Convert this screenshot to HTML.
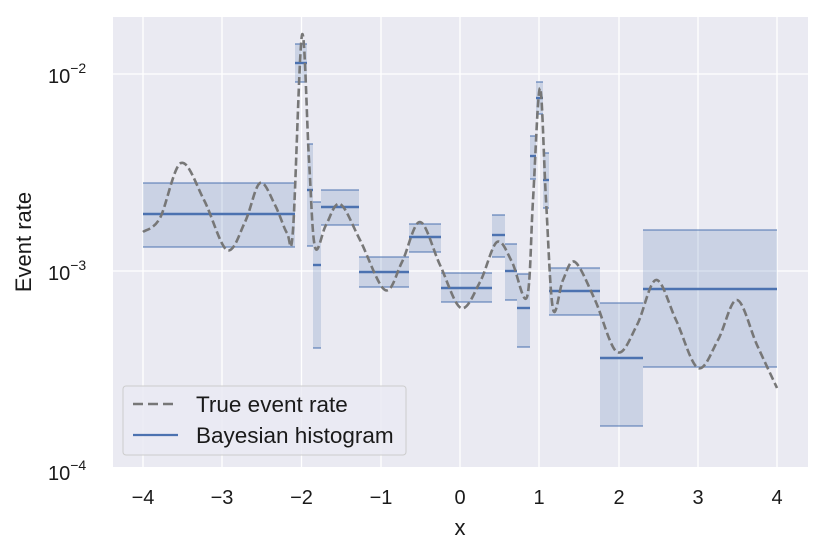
<!DOCTYPE html>
<html><head><style>
body{margin:0;background:#fff;font-family:"Liberation Sans","DejaVu Sans",sans-serif;}
svg text{font-family:"Liberation Sans","DejaVu Sans",sans-serif;fill:#1a1a1a;}
</style></head><body>
<svg id="s" width="823" height="554" xmlns="http://www.w3.org/2000/svg">
<rect x="113" y="17" width="695" height="450" fill="#eaeaf2"/>
<g stroke="#fff" stroke-width="1.3">
<line x1="143" y1="17" x2="143" y2="467"/><line x1="222" y1="17" x2="222" y2="467"/>
<line x1="301.5" y1="17" x2="301.5" y2="467"/><line x1="381" y1="17" x2="381" y2="467"/>
<line x1="460" y1="17" x2="460" y2="467"/><line x1="539" y1="17" x2="539" y2="467"/>
<line x1="619" y1="17" x2="619" y2="467"/><line x1="698" y1="17" x2="698" y2="467"/>
<line x1="777" y1="17" x2="777" y2="467"/>
<line x1="113" y1="74" x2="808" y2="74"/><line x1="113" y1="271" x2="808" y2="271"/>
</g>
<g id="bins"></g>
<path id="curve" fill="none" stroke="#777" stroke-width="2.6" stroke-dasharray="8,3.5"/>
<g font-size="20" text-anchor="middle">
<text x="143" y="504">−4</text><text x="222" y="504">−3</text><text x="301.5" y="504">−2</text>
<text x="381" y="504">−1</text><text x="460" y="504">0</text><text x="539" y="504">1</text>
<text x="619" y="504">2</text><text x="698" y="504">3</text><text x="777" y="504">4</text>
<text x="460" y="535" font-size="22">x</text>
</g>
<g font-size="20">
<text x="48" y="83">10<tspan font-size="14" dy="-10">−2</tspan></text>
<text x="48" y="280">10<tspan font-size="14" dy="-10">−3</tspan></text>
<text x="48" y="480">10<tspan font-size="14" dy="-10">−4</tspan></text>
</g>
<text x="31" y="242" font-size="22" text-anchor="middle" transform="rotate(-90 31 242)">Event rate</text>
<rect x="123" y="386" width="283" height="69" rx="3" fill="#eaeaf2" fill-opacity="0.8" stroke="#ccc"/>
<line x1="133" y1="404" x2="178" y2="404" stroke="#777" stroke-width="2.6" stroke-dasharray="10,5"/>
<line x1="133" y1="435" x2="178" y2="435" stroke="#4c72b0" stroke-width="2.2"/>
<text x="196" y="412" font-size="22.5">True event rate</text>
<text x="196" y="443" font-size="22.5">Bayesian histogram</text>
</svg>
<script>
var B=[[143,295,183,214,247],[295,307,44,63,82],[307,313,144,190,246],[313,321,202,265,348],[321,359,190,207,225],[359,409,257,272,287],[409,441,224,237,252],[441,492,273,288,302],[492,505,215,235,257],[505,517,244,271,300],[517,530,274,308,347],[530,536,136,156,179],[536,543,82,98,114],[543,549,153,180,208],[549,600,268,291,315],[600,643,303,358,426],[643,777,230,289,367]];
var g=document.getElementById('bins'),h='';
B.forEach(function(b){h+='<rect x="'+b[0]+'" y="'+b[2]+'" width="'+(b[1]-b[0])+'" height="'+(b[4]-b[2])+'" fill="#4c72b0" fill-opacity="0.2"/>';
h+='<line x1="'+b[0]+'" x2="'+b[1]+'" y1="'+b[2]+'" y2="'+b[2]+'" stroke="#4c72b0" stroke-opacity="0.8" stroke-width="1.3"/>';
h+='<line x1="'+b[0]+'" x2="'+b[1]+'" y1="'+b[4]+'" y2="'+b[4]+'" stroke="#4c72b0" stroke-opacity="0.8" stroke-width="1.3"/>';
h+='<line x1="'+b[0]+'" x2="'+b[1]+'" y1="'+b[3]+'" y2="'+b[3]+'" stroke="#4c72b0" stroke-width="2.4"/>';});
g.innerHTML=h;
var P=[[143,232],[160,218],[181,163],[204,200],[227,250],[245,222],[260,183],[275,205],[287,233],[293,230],[302,35],[309,160],[315,247],[326,225],[340,204],[360,240],[385,290],[402,262],[420,222],[440,265],[461,308],[480,282],[497,242],[512,262],[527,297],[533,200],[540,88],[546,200],[553,309],[563,280],[575,262],[595,300],[617,352],[637,325],[656,280],[676,320],[698,368],[718,340],[737,300],[757,345],[777,388]];
var d='M'+P[0][0]+','+P[0][1];
for(var i=0;i<P.length-1;i++){var p0=P[i>0?i-1:i],p1=P[i],p2=P[i+1],p3=P[i+2<P.length?i+2:i+1];
d+=' C'+(p1[0]+(p2[0]-p0[0])/6)+','+(p1[1]+(p2[1]-p0[1])/6)+' '+(p2[0]-(p3[0]-p1[0])/6)+','+(p2[1]-(p3[1]-p1[1])/6)+' '+p2[0]+','+p2[1];}
document.getElementById('curve').setAttribute('d',d);
</script>
</body></html>
